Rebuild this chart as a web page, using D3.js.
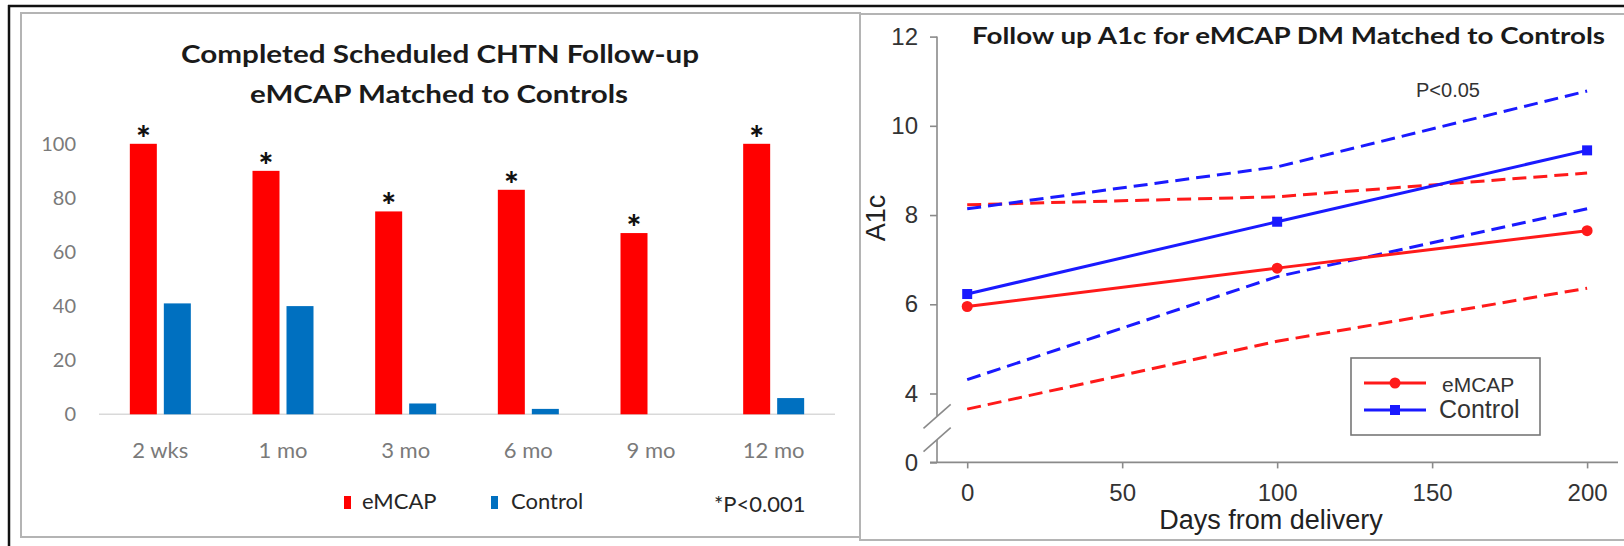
<!DOCTYPE html>
<html>
<head>
<meta charset="utf-8">
<script src="https://cdn.jsdelivr.net/npm/d3@7"></script>
<style>
  body { margin: 0; background: #fff; }
  svg { display: block; }
</style>
</head>
<body>
<svg id="chart" width="1624" height="546"></svg>
<script>
// ---- Completed scheduled follow-up visits (%) ----
const visitCategories = ["2 wks", "1 mo", "3 mo", "6 mo", "9 mo", "12 mo"];
const emcapCompleted = [100, 90, 75, 83, 67, 100];
const controlCompleted = [41, 40, 4, 2, 0, 6];
const significantVisit = [true, true, true, true, true, true];
const percentTicks = [0, 20, 40, 60, 80, 100];

// ---- Follow-up A1c by days from delivery ----
const days = [0, 100, 200];
const emcapA1c = [5.95, 6.81, 7.65];
const emcapUpper = [8.23, 8.41, 8.94];
const emcapLower = [3.65, 5.17, 6.36];
const controlA1c = [6.23, 7.85, 9.45];
const controlUpper = [8.14, 9.08, 10.78];
const controlLower = [4.31, 6.62, 8.14];
const a1cTicks = [0, 4, 6, 8, 10, 12];
const dayTicks = [0, 50, 100, 150, 200];

const svg = d3.select("#chart");
const calibri = "Lato, 'Open Sans', sans-serif";
const arial = "'Liberation Sans', Arial, sans-serif";

// outer frame and panel borders
svg.append("line").attr("x1", 8).attr("x2", 1624).attr("y1", 6).attr("y2", 6)
  .attr("stroke", "#111").attr("stroke-width", 2.5);
svg.append("line").attr("x1", 9).attr("x2", 9).attr("y1", 5).attr("y2", 546)
  .attr("stroke", "#111").attr("stroke-width", 2.5);
svg.append("rect").attr("x", 21).attr("y", 13).attr("width", 839).attr("height", 524)
  .attr("fill", "#fff").attr("stroke", "#b4b4b4").attr("stroke-width", 2);
svg.append("rect").attr("x", 860).attr("y", 14).attr("width", 780).attr("height", 526)
  .attr("fill", "#fff").attr("stroke", "#b4b4b4").attr("stroke-width", 2);

// ================= Bar chart =================
const left = svg.append("g");

left.append("text").attr("x", 440).attr("y", 63)
  .attr("text-anchor", "middle").attr("font-family", calibri).attr("font-weight", 700)
  .attr("font-size", 25).attr("fill", "#1a1a1a")
  .attr("textLength", 518).attr("lengthAdjust", "spacingAndGlyphs")
  .text("Completed Scheduled CHTN Follow-up");
left.append("text").attr("x", 439).attr("y", 103)
  .attr("text-anchor", "middle").attr("font-family", calibri).attr("font-weight", 700)
  .attr("font-size", 25).attr("fill", "#1a1a1a")
  .attr("textLength", 378).attr("lengthAdjust", "spacingAndGlyphs")
  .text("eMCAP Matched to Controls");

const xBand = d3.scaleBand().domain(visitCategories).range([99, 835]);
const yPct = d3.scaleLinear().domain([0, 100]).range([414.3, 143.8]);
const barW = 27, barGap = 7;

// percent axis labels (no axis line)
const yAxisL = left.append("g").attr("transform", "translate(76,0)")
  .call(d3.axisLeft(yPct).tickValues(percentTicks).tickSize(0).tickPadding(0));
yAxisL.select(".domain").remove();
yAxisL.selectAll("text").attr("font-family", calibri).attr("font-size", 20)
  .attr("fill", "#7a7a7a");

// baseline
left.append("line").attr("x1", 99).attr("x2", 835)
  .attr("y1", yPct(0)).attr("y2", yPct(0))
  .attr("stroke", "#d9d9d9").attr("stroke-width", 1.5);

const groups = left.selectAll(".grp").data(visitCategories).join("g").attr("class", "grp");
const center = c => xBand(c) + xBand.bandwidth() / 2;

groups.append("rect")
  .attr("x", c => center(c) - barGap / 2 - barW)
  .attr("y", (c, i) => yPct(emcapCompleted[i]))
  .attr("width", barW)
  .attr("height", (c, i) => yPct(0) - yPct(emcapCompleted[i]))
  .attr("fill", "#ff0000");
groups.append("rect")
  .attr("x", c => center(c) + barGap / 2)
  .attr("y", (c, i) => yPct(controlCompleted[i]))
  .attr("width", barW)
  .attr("height", (c, i) => yPct(0) - yPct(controlCompleted[i]))
  .attr("fill", "#0070c0");

// significance markers
groups.filter((c, i) => significantVisit[i]).append("text")
  .attr("x", c => center(c) - barGap / 2 - barW / 2)
  .attr("y", c => yPct(emcapCompleted[visitCategories.indexOf(c)]) + 7)
  .attr("text-anchor", "middle").attr("font-family", calibri).attr("font-weight", 900)
  .attr("font-size", 35).attr("fill", "#111").text("*");

// category labels
const xAxisL = left.append("g").attr("transform", `translate(0,${yPct(0)})`)
  .call(d3.axisBottom(xBand).tickSize(0).tickPadding(37));
xAxisL.select(".domain").remove();
xAxisL.selectAll("text").attr("font-family", calibri).attr("font-size", 22)
  .attr("fill", "#7a7a7a").attr("dy", "0.32em");

// legend
const legL = left.append("g");
legL.append("rect").attr("x", 344).attr("y", 496).attr("width", 7).attr("height", 13).attr("fill", "#ff0000");
legL.append("text").attr("x", 362).attr("y", 509).attr("font-family", calibri)
  .attr("font-size", 22).attr("fill", "#262626").text("eMCAP");
legL.append("rect").attr("x", 491).attr("y", 496).attr("width", 7).attr("height", 13).attr("fill", "#0070c0");
legL.append("text").attr("x", 511).attr("y", 509).attr("font-family", calibri)
  .attr("font-size", 22).attr("fill", "#262626").text("Control");
legL.append("text").attr("x", 714).attr("y", 512).attr("font-family", calibri)
  .attr("font-size", 22).attr("fill", "#262626").text("*P<0.001");

// ================= A1c line chart =================
const right = svg.append("g");
const xDay = d3.scaleLinear().domain([0, 200]).range([967.2, 1587.1]);
// broken value axis: 0 sits below a gap, 3.5 to 12 is linear
const yA1c = d3.scaleLinear().domain([0, 3.5, 12]).range([462.4, 415.8, 36.6]);
const axisX = 937;
const axisGray = "#8a8a8a";

right.append("text").attr("x", 972).attr("y", 44)
  .attr("font-family", calibri).attr("font-weight", 700).attr("font-size", 22)
  .attr("fill", "#1a1a1a").attr("textLength", 633).attr("lengthAdjust", "spacingAndGlyphs")
  .text("Follow up A1c for eMCAP DM Matched to Controls");

const yAxisR = right.append("g").attr("transform", `translate(${axisX},0)`)
  .call(d3.axisLeft(yA1c).tickValues(a1cTicks).tickSize(7).tickPadding(12));
yAxisR.select(".domain").remove();
yAxisR.selectAll("line").attr("stroke", axisGray).attr("stroke-width", 1.6);
yAxisR.selectAll("text").attr("font-family", arial).attr("font-size", 24).attr("fill", "#333");

// axis line with break
right.append("line").attr("x1", axisX).attr("x2", axisX).attr("y1", yA1c(12)).attr("y2", 416)
  .attr("stroke", axisGray).attr("stroke-width", 1.6);
right.append("line").attr("x1", axisX).attr("x2", axisX).attr("y1", 440).attr("y2", yA1c(0))
  .attr("stroke", axisGray).attr("stroke-width", 1.6);
[428.3, 451.7].forEach(y0 => {
  right.append("line").attr("x1", 923.5).attr("y1", y0).attr("x2", 950.7).attr("y2", y0 - 24)
    .attr("stroke", axisGray).attr("stroke-width", 1.6);
});

const xAxisR = right.append("g").attr("transform", `translate(0,${yA1c(0)})`)
  .call(d3.axisBottom(xDay).tickValues(dayTicks).tickSize(6).tickPadding(16));
xAxisR.select(".domain").remove();
xAxisR.selectAll("line").attr("stroke", axisGray).attr("stroke-width", 1.6);
xAxisR.selectAll("text").attr("font-family", arial).attr("font-size", 24).attr("fill", "#333");
right.append("line").attr("x1", 930).attr("x2", 1618).attr("y1", yA1c(0)).attr("y2", yA1c(0))
  .attr("stroke", axisGray).attr("stroke-width", 1.6);

right.append("text").attr("transform", "translate(885,218) rotate(-90)")
  .attr("text-anchor", "middle").attr("font-family", arial).attr("font-size", 27)
  .attr("fill", "#222").text("A1c");
right.append("text").attr("x", 1271).attr("y", 529)
  .attr("text-anchor", "middle").attr("font-family", arial).attr("font-size", 27)
  .attr("fill", "#222").text("Days from delivery");

right.append("text").attr("x", 1416).attr("y", 97)
  .attr("font-family", arial).attr("font-size", 20).attr("fill", "#333").text("P<0.05");

const line = d3.line().x((d, i) => xDay(days[i])).y(d => yA1c(d));
const red = "#ff1a1a", blue = "#1a1aff";

[[emcapUpper, red], [emcapLower, red], [controlUpper, blue], [controlLower, blue]]
  .forEach(([vals, col]) => {
    right.append("path").datum(vals).attr("d", line).attr("fill", "none")
      .attr("stroke", col).attr("stroke-width", 3).attr("stroke-dasharray", "14,7");
  });

right.append("path").datum(emcapA1c).attr("d", line).attr("fill", "none")
  .attr("stroke", red).attr("stroke-width", 3);
right.append("path").datum(controlA1c).attr("d", line).attr("fill", "none")
  .attr("stroke", blue).attr("stroke-width", 3);

right.selectAll(".mE").data(emcapA1c).join("circle").attr("class", "mE")
  .attr("cx", (d, i) => xDay(days[i])).attr("cy", d => yA1c(d)).attr("r", 5.5)
  .attr("fill", red);
right.selectAll(".mC").data(controlA1c).join("rect").attr("class", "mC")
  .attr("x", (d, i) => xDay(days[i]) - 5).attr("y", d => yA1c(d) - 5)
  .attr("width", 10).attr("height", 10).attr("fill", blue);

// legend box
const legR = right.append("g");
legR.append("rect").attr("x", 1351).attr("y", 358).attr("width", 189).attr("height", 77)
  .attr("fill", "#fff").attr("stroke", "#777").attr("stroke-width", 1.6);
legR.append("line").attr("x1", 1364).attr("x2", 1426).attr("y1", 383).attr("y2", 383)
  .attr("stroke", red).attr("stroke-width", 3);
legR.append("circle").attr("cx", 1395).attr("cy", 383).attr("r", 5.5).attr("fill", red);
legR.append("text").attr("x", 1442).attr("y", 392).attr("font-family", arial)
  .attr("font-size", 21).attr("fill", "#333").text("eMCAP");
legR.append("line").attr("x1", 1364).attr("x2", 1426).attr("y1", 410).attr("y2", 410)
  .attr("stroke", blue).attr("stroke-width", 3);
legR.append("rect").attr("x", 1390).attr("y", 405).attr("width", 10).attr("height", 10).attr("fill", blue);
legR.append("text").attr("x", 1439).attr("y", 418).attr("font-family", arial)
  .attr("font-size", 25).attr("fill", "#333").text("Control");
</script>
</body>
</html>
